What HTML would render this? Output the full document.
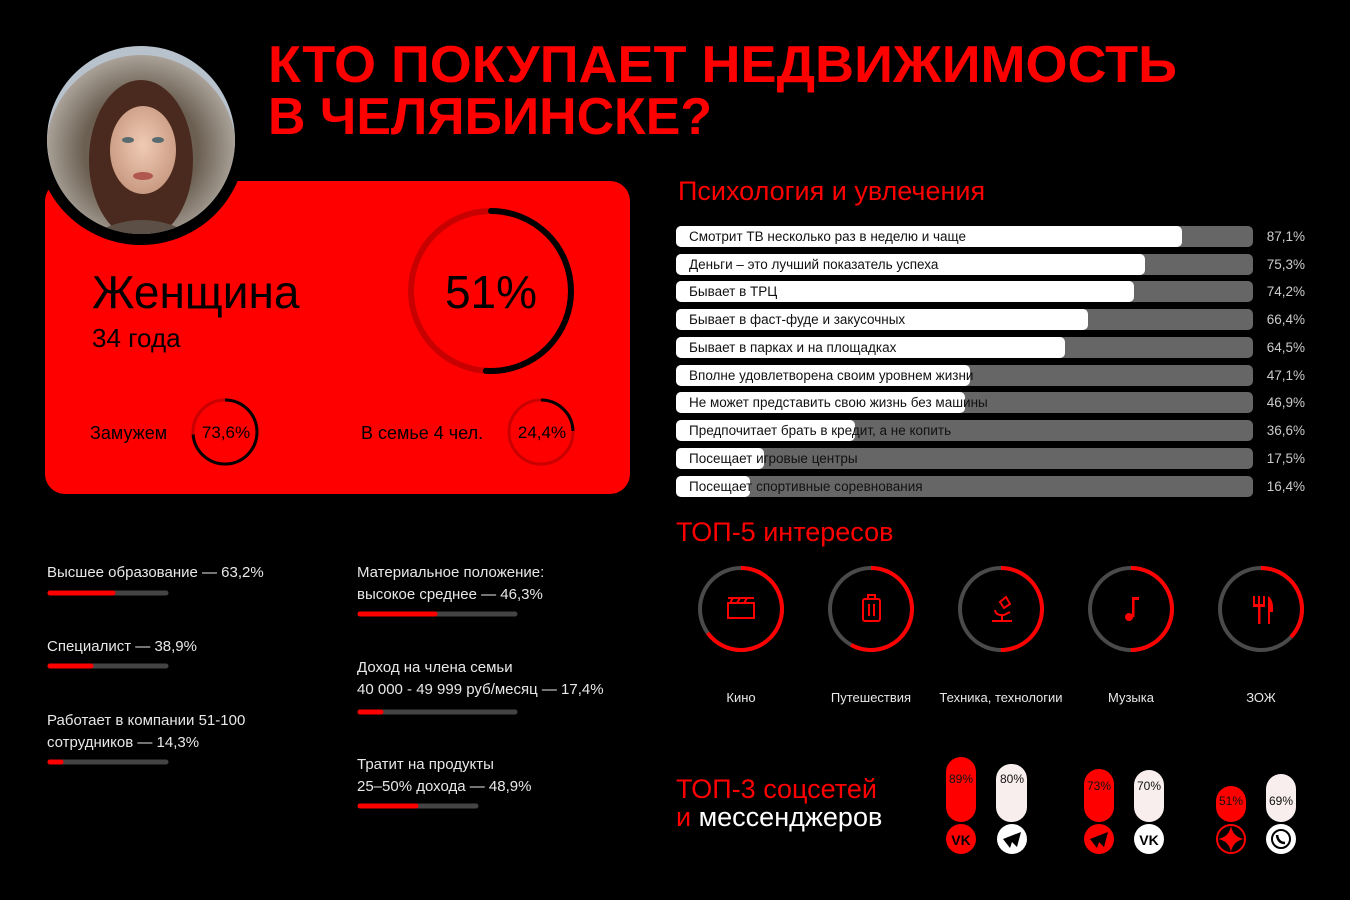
<!DOCTYPE html>
<html><head><meta charset="utf-8"><style>
html,body{margin:0;padding:0;background:#000;}
svg{display:block;}
text{font-family:"Liberation Sans",sans-serif;}
</style></head><body>
<svg width="1350" height="900" viewBox="0 0 1350 900" xmlns="http://www.w3.org/2000/svg">
<defs>
<clipPath id="ph"><circle cx="141" cy="140" r="94"/></clipPath>
<radialGradient id="fur" cx="0.5" cy="0.5" r="0.6"><stop offset="0.5" stop-color="#6b5f52"/><stop offset="1" stop-color="#c9c3bb"/></radialGradient>
<radialGradient id="face" cx="0.5" cy="0.45" r="0.55"><stop offset="0" stop-color="#f0cbb4"/><stop offset="1" stop-color="#c99a82"/></radialGradient>
</defs>
<rect width="1350" height="900" fill="#000"/>
<text x="268" y="82" font-size="52" font-weight="bold" fill="#ff0000" textLength="909" lengthAdjust="spacingAndGlyphs">КТО ПОКУПАЕТ НЕДВИЖИМОСТЬ</text>
<text x="268" y="134" font-size="52" font-weight="bold" fill="#ff0000" textLength="444" lengthAdjust="spacingAndGlyphs">В ЧЕЛЯБИНСКЕ?</text>

<!-- red card -->
<rect x="45" y="181" width="585" height="313" rx="20" fill="#ff0000"/>
<circle cx="141" cy="140" r="105" fill="#000"/>
<g clip-path="url(#ph)">
<rect x="40" y="40" width="210" height="210" fill="#b8c2cc"/>
<circle cx="141" cy="150" r="95" fill="url(#fur)"/>
<ellipse cx="141" cy="160" rx="52" ry="80" fill="#4a2a1e"/>
<ellipse cx="143" cy="150" rx="33" ry="44" fill="url(#face)"/>
<ellipse cx="128" cy="140" rx="6" ry="3" fill="#5a6b70"/>
<ellipse cx="158" cy="140" rx="6" ry="3" fill="#5a6b70"/>
<ellipse cx="143" cy="176" rx="10" ry="4" fill="#b0584f"/>
<path d="M70 250 Q141 190 215 250 Z" fill="#5c5046"/>
</g>

<text x="92" y="308" font-size="46" fill="#000">Женщина</text>
<text x="92" y="347" font-size="26" fill="#000">34 года</text>
<circle cx="491" cy="291" r="80" fill="none" stroke="#c80000" stroke-width="6"/>
<circle cx="491" cy="291" r="80" fill="none" stroke="#000" stroke-width="6" stroke-dasharray="256.4 600" transform="rotate(-90 491 291)" stroke-linecap="round"/>
<text x="491" y="308" font-size="46" fill="#000" text-anchor="middle">51%</text>

<text x="90" y="439" font-size="18" fill="#000">Замужем</text>
<circle cx="225" cy="432" r="32" fill="none" stroke="#c80000" stroke-width="3"/>
<circle cx="225" cy="432" r="32" fill="none" stroke="#000" stroke-width="3" stroke-dasharray="148 300" transform="rotate(-90 225 432)"/>
<text x="226" y="438" font-size="17" fill="#000" text-anchor="middle">73,6%</text>
<text x="361" y="439" font-size="18" fill="#000">В семье 4 чел.</text>
<circle cx="541" cy="432" r="32" fill="none" stroke="#c80000" stroke-width="3"/>
<circle cx="541" cy="432" r="32" fill="none" stroke="#000" stroke-width="3" stroke-dasharray="49.1 300" transform="rotate(-90 541 432)"/>
<text x="542" y="438" font-size="17" fill="#000" text-anchor="middle">24,4%</text>

<!-- left stats -->
<g font-size="15" fill="#e8e8e8">
<text x="47" y="577">Высшее образование — 63,2%</text>
<text x="47" y="651">Специалист — 38,9%</text>
<text x="47" y="725">Работает в компании 51-100</text>
<text x="47" y="747">сотрудников — 14,3%</text>
<text x="357" y="577">Материальное положение:</text>
<text x="357" y="599">высокое среднее — 46,3%</text>
<text x="357" y="672">Доход на члена семьи</text>
<text x="357" y="694">40 000 - 49 999 руб/месяц — 17,4%</text>
<text x="357" y="769">Тратит на продукты</text>
<text x="357" y="791">25–50% дохода — 48,9%</text>
</g>
<g stroke-linecap="round" stroke-width="5">
<line x1="50" y1="593" x2="166" y2="593" stroke="#444"/><line x1="50" y1="593" x2="113" y2="593" stroke="#ff0000"/>
<line x1="50" y1="666" x2="166" y2="666" stroke="#444"/><line x1="50" y1="666" x2="91" y2="666" stroke="#ff0000"/>
<line x1="50" y1="762" x2="166" y2="762" stroke="#444"/><line x1="50" y1="762" x2="61" y2="762" stroke="#ff0000"/>
<line x1="360" y1="614" x2="515" y2="614" stroke="#444"/><line x1="360" y1="614" x2="435" y2="614" stroke="#ff0000"/>
<line x1="360" y1="712" x2="515" y2="712" stroke="#444"/><line x1="360" y1="712" x2="381" y2="712" stroke="#ff0000"/>
<line x1="360" y1="806" x2="476" y2="806" stroke="#444"/><line x1="360" y1="806" x2="416" y2="806" stroke="#ff0000"/>
</g>

<!-- psychology -->
<text x="678" y="200" font-size="27" fill="#ff0000">Психология и увлечения</text>
<g font-size="13.5">
<g transform="translate(0,226)"><rect x="676" y="0" width="577" height="21" rx="5" fill="#666"/><rect x="676" y="0" width="506" height="21" rx="5" fill="#fff"/><text x="689" y="15" fill="#111">Смотрит ТВ несколько раз в неделю и чаще</text><text x="1305" y="15" fill="#ccc" text-anchor="end">87,1%</text></g>
<g transform="translate(0,254)"><rect x="676" y="0" width="577" height="21" rx="5" fill="#666"/><rect x="676" y="0" width="469" height="21" rx="5" fill="#fff"/><text x="689" y="15" fill="#111">Деньги – это лучший показатель успеха</text><text x="1305" y="15" fill="#ccc" text-anchor="end">75,3%</text></g>
<g transform="translate(0,281)"><rect x="676" y="0" width="577" height="21" rx="5" fill="#666"/><rect x="676" y="0" width="458" height="21" rx="5" fill="#fff"/><text x="689" y="15" fill="#111">Бывает в ТРЦ</text><text x="1305" y="15" fill="#ccc" text-anchor="end">74,2%</text></g>
<g transform="translate(0,309)"><rect x="676" y="0" width="577" height="21" rx="5" fill="#666"/><rect x="676" y="0" width="412" height="21" rx="5" fill="#fff"/><text x="689" y="15" fill="#111">Бывает в фаст-фуде и закусочных</text><text x="1305" y="15" fill="#ccc" text-anchor="end">66,4%</text></g>
<g transform="translate(0,337)"><rect x="676" y="0" width="577" height="21" rx="5" fill="#666"/><rect x="676" y="0" width="389" height="21" rx="5" fill="#fff"/><text x="689" y="15" fill="#111">Бывает в парках и на площадках</text><text x="1305" y="15" fill="#ccc" text-anchor="end">64,5%</text></g>
<g transform="translate(0,365)"><rect x="676" y="0" width="577" height="21" rx="5" fill="#666"/><rect x="676" y="0" width="294" height="21" rx="5" fill="#fff"/><text x="689" y="15" fill="#111">Вполне удовлетворена своим уровнем жизни</text><text x="1305" y="15" fill="#ccc" text-anchor="end">47,1%</text></g>
<g transform="translate(0,392)"><rect x="676" y="0" width="577" height="21" rx="5" fill="#666"/><rect x="676" y="0" width="289" height="21" rx="5" fill="#fff"/><text x="689" y="15" fill="#111">Не может представить свою жизнь без машины</text><text x="1305" y="15" fill="#ccc" text-anchor="end">46,9%</text></g>
<g transform="translate(0,420)"><rect x="676" y="0" width="577" height="21" rx="5" fill="#666"/><rect x="676" y="0" width="179" height="21" rx="5" fill="#fff"/><text x="689" y="15" fill="#111">Предпочитает брать в кредит, а не копить</text><text x="1305" y="15" fill="#ccc" text-anchor="end">36,6%</text></g>
<g transform="translate(0,448)"><rect x="676" y="0" width="577" height="21" rx="5" fill="#666"/><rect x="676" y="0" width="88" height="21" rx="5" fill="#fff"/><text x="689" y="15" fill="#111">Посещает игровые центры</text><text x="1305" y="15" fill="#ccc" text-anchor="end">17,5%</text></g>
<g transform="translate(0,476)"><rect x="676" y="0" width="577" height="21" rx="5" fill="#666"/><rect x="676" y="0" width="74" height="21" rx="5" fill="#fff"/><text x="689" y="15" fill="#111">Посещает спортивные соревнования</text><text x="1305" y="15" fill="#ccc" text-anchor="end">16,4%</text></g>
</g>

<!-- top 5 -->
<text x="676" y="541" font-size="27" fill="#ff0000">ТОП-5 интересов</text>
<g fill="none" stroke-width="4">
<circle cx="741" cy="609" r="41" stroke="#4a4a4a"/><circle cx="741" cy="609" r="41" stroke="#ff0000" stroke-dasharray="167.4 300" transform="rotate(-90 741 609)"/>
<circle cx="871" cy="609" r="41" stroke="#4a4a4a"/><circle cx="871" cy="609" r="41" stroke="#ff0000" stroke-dasharray="149.4 300" transform="rotate(-90 871 609)"/>
<circle cx="1001" cy="609" r="41" stroke="#4a4a4a"/><circle cx="1001" cy="609" r="41" stroke="#ff0000" stroke-dasharray="128.8 300" transform="rotate(-90 1001 609)"/>
<circle cx="1131" cy="609" r="41" stroke="#4a4a4a"/><circle cx="1131" cy="609" r="41" stroke="#ff0000" stroke-dasharray="128.8 300" transform="rotate(-90 1131 609)"/>
<circle cx="1261" cy="609" r="41" stroke="#4a4a4a"/><circle cx="1261" cy="609" r="41" stroke="#ff0000" stroke-dasharray="95.3 300" transform="rotate(-90 1261 609)"/>
</g>
<g stroke="#ff0000" fill="none" stroke-width="2">
<rect x="728" y="603" width="26" height="15"/><path d="M728 598 L754 598 M733 598 L730 603 M740 598 L737 603 M747 598 L744 603"/>
<rect x="863" y="599" width="17" height="22" rx="2"/><path d="M868 599 V595 H875 V599 M869 604 V616 M874 604 V616"/>
<path d="M992 621 H1012 M1002 621 V614 M995 610 Q996 616 1004 615 L1010 612 M1000 602 L1006 597 L1010 604 L1004 608 Z"/>
</g>
<g fill="#ff0000">
<circle cx="1129" cy="617" r="4"/><rect x="1132" y="597" width="2.5" height="20"/><rect x="1132" y="597" width="7" height="3"/>
<rect x="1253" y="596" width="2" height="10"/><rect x="1258" y="596" width="2" height="10"/><rect x="1263" y="596" width="2" height="10"/><rect x="1253" y="604" width="12" height="3"/><rect x="1258" y="604" width="2.5" height="20"/><path d="M1268 624 V596 Q1274 600 1273 612 L1270 612 V624 Z"/>
</g>
<g font-size="13" fill="#e8e8e8" text-anchor="middle">
<text x="741" y="702">Кино</text><text x="871" y="702">Путешествия</text><text x="1001" y="702">Техника, технологии</text><text x="1131" y="702">Музыка</text><text x="1261" y="702">ЗОЖ</text>
</g>

<!-- socials -->
<text x="676" y="798" font-size="27" fill="#ff0000">ТОП-3 соцсетей</text>
<text x="676" y="826" font-size="27" fill="#fff"><tspan fill="#ff0000">и</tspan> мессенджеров</text>
<rect x="946" y="757" width="30" height="65" rx="15" fill="#ff0000"/>
<rect x="996" y="764" width="31" height="58" rx="15" fill="#f8eeee"/>
<rect x="1084" y="769" width="30" height="53" rx="15" fill="#ff0000"/>
<rect x="1134" y="770" width="30" height="52" rx="15" fill="#f8eeee"/>
<rect x="1216" y="786" width="30" height="36" rx="15" fill="#ff0000"/>
<rect x="1266" y="774" width="30" height="48" rx="15" fill="#f8eeee"/>
<g font-size="12" fill="#111" text-anchor="middle">
<text x="961" y="783">89%</text><text x="1012" y="783">80%</text><text x="1099" y="790">73%</text><text x="1149" y="790">70%</text><text x="1231" y="805">51%</text><text x="1281" y="805">69%</text>
</g>
<circle cx="961" cy="839" r="15" fill="#ff0000"/>
<text x="961" y="845" font-size="14" font-weight="bold" fill="#000" text-anchor="middle">VK</text>
<circle cx="1012" cy="839" r="15" fill="#fff"/>
<path d="M1003 839 L1021 832 L1017 847 L1012 842 L1010 848 Z" fill="#000"/>
<circle cx="1099" cy="839" r="15" fill="#ff0000"/>
<path d="M1090 839 L1108 832 L1104 847 L1099 842 L1097 848 Z" fill="#000"/>
<circle cx="1149" cy="839" r="15" fill="#fff"/>
<text x="1149" y="845" font-size="14" font-weight="bold" fill="#000" text-anchor="middle">VK</text>
<circle cx="1231" cy="839" r="14" fill="none" stroke="#ff0000" stroke-width="2"/>
<path d="M1231 826 Q1233 837 1244 839 Q1233 841 1231 852 Q1229 841 1218 839 Q1229 837 1231 826 Z" fill="#ff0000"/>
<circle cx="1281" cy="839" r="15" fill="#fff"/>
<circle cx="1281" cy="839" r="9" fill="none" stroke="#000" stroke-width="2"/>
<path d="M1277 835 Q1278 843 1285 843" stroke="#000" stroke-width="2.5" fill="none"/>
</svg>
</body></html>
